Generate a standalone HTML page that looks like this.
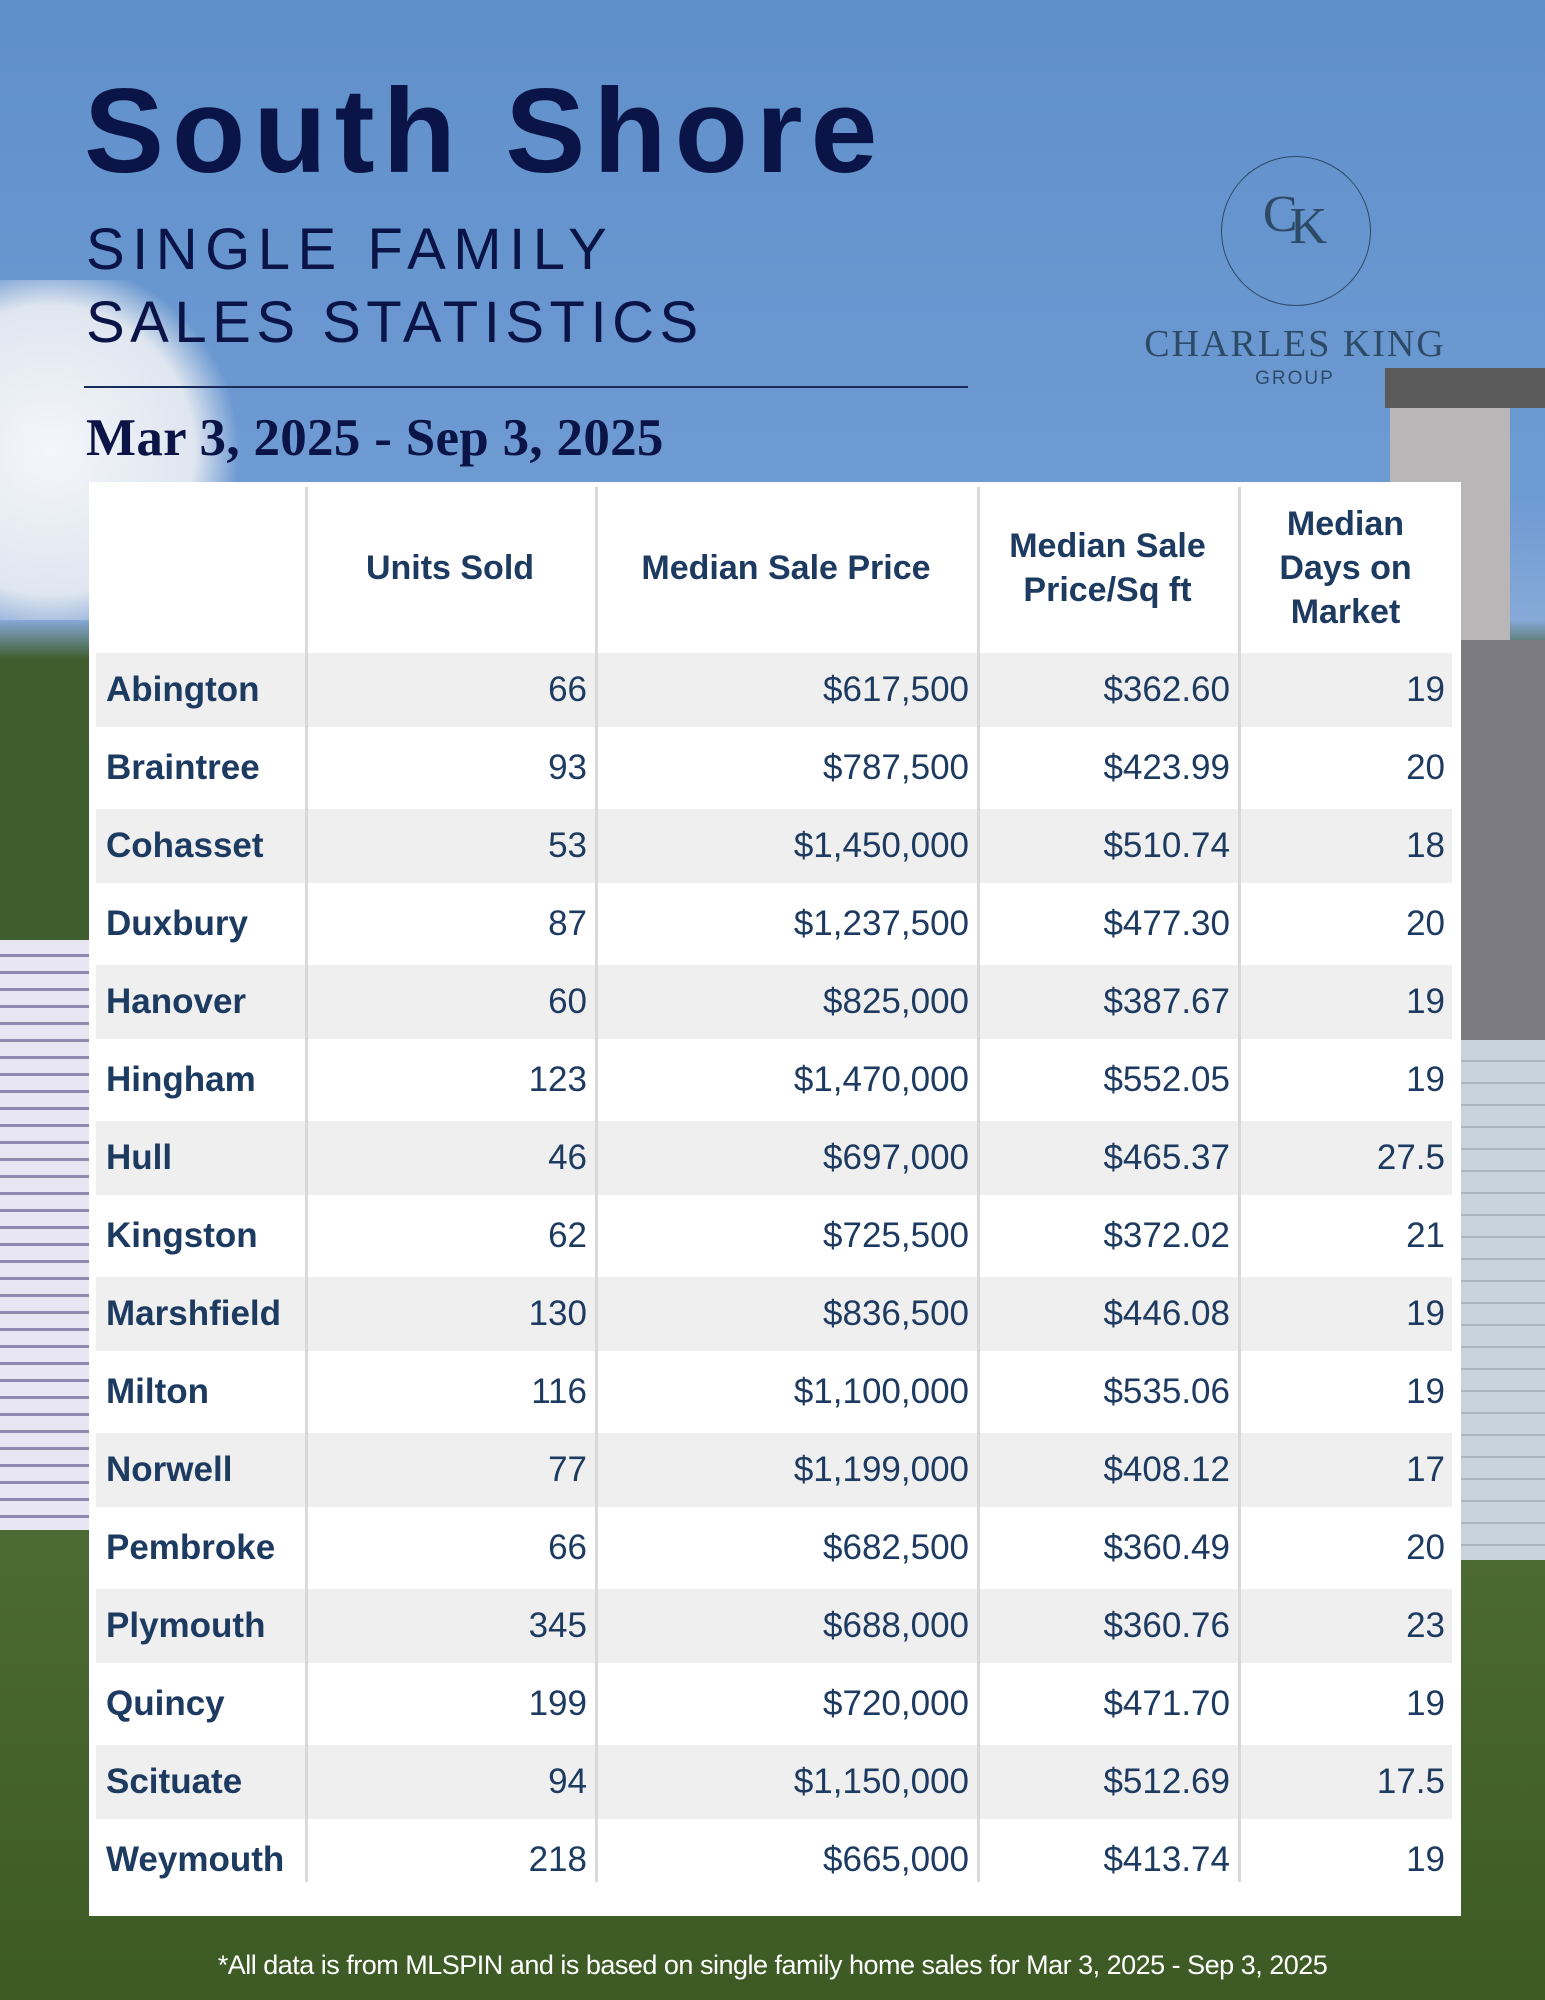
<!DOCTYPE html>
<html><head><meta charset="utf-8"><style>
*{margin:0;padding:0;box-sizing:border-box}
html,body{width:1545px;height:2000px;overflow:hidden}
body{position:relative;font-family:"Liberation Sans",sans-serif;
background:linear-gradient(180deg,#5f8fca 0%,#6f9bd3 25%,#86a9d8 31%,#3e5c2c 33%,#3f6030 60%,#4d6b35 75%,#3d5a24 100%)}
.abs{position:absolute}
.cell{position:absolute;color:#1d3a60;font-size:35px;white-space:nowrap}
</style></head><body>
<div class="abs" style="left:0;top:280px;width:250px;height:340px;border-radius:0 50% 50% 0;background:radial-gradient(circle at 20% 50%,#f4f6fa,#dfe6f0 55%,rgba(220,230,240,0) 72%)"></div>
<div class="abs" style="left:0;top:940px;width:92px;height:590px;background:repeating-linear-gradient(180deg,#e8e6f2 0 14px,#8f88b0 14px 17px)"></div>
<div class="abs" style="left:1390px;top:400px;width:120px;height:240px;background:#b8b6b6"></div>
<div class="abs" style="left:1385px;top:368px;width:160px;height:40px;background:#5a5a5a"></div>
<div class="abs" style="left:1461px;top:640px;width:84px;height:400px;background:#7a7a80"></div>
<div class="abs" style="left:1461px;top:1040px;width:84px;height:520px;background:repeating-linear-gradient(180deg,#c9d3dc 0 20px,#a9b5c0 20px 22px)"></div>

<div class="abs" style="left:84px;top:62px;font-size:120px;font-weight:bold;color:#0b1446;letter-spacing:8px">South Shore</div>
<div class="abs" style="left:86px;top:216px;font-size:58px;color:#0b1446;letter-spacing:7.5px">SINGLE FAMILY</div>
<div class="abs" style="left:86px;top:289px;font-size:58px;color:#0b1446;letter-spacing:5.5px">SALES STATISTICS</div>
<div class="abs" style="left:84px;top:386px;width:884px;height:2px;background:#1a2a5a"></div>
<div class="abs" style="left:86px;top:408px;font-family:'Liberation Serif',serif;font-size:53px;font-weight:bold;color:#0b1446;letter-spacing:0.3px">Mar 3, 2025 - Sep 3, 2025</div>

<div class="abs" style="left:1221px;top:156px;width:150px;height:150px;border:1.5px solid #2d4a66;border-radius:50%"></div>
<div class="abs" style="left:1250px;top:185px;width:90px;text-align:center;font-family:'Liberation Serif',serif;font-size:52px;color:#2d4a66">C<span style="font-size:52px;position:relative;top:12px;margin-left:-8px">K</span></div>
<div class="abs" style="left:1130px;top:322px;width:330px;text-align:center;font-family:'Liberation Serif',serif;font-size:38px;color:#2d4a66;letter-spacing:2px">CHARLES KING</div>
<div class="abs" style="left:1195px;top:368px;width:200px;text-align:center;font-size:19px;color:#2d4a66;letter-spacing:2px">GROUP</div>

<div class="abs" id="table" style="left:89px;top:482px;width:1372px;height:1434px;background:#fff"></div>

<div class="abs" style="left:0;top:1950px;width:1545px;text-align:center;font-size:27px;color:#fff;letter-spacing:-0.5px">*All data is from MLSPIN and is based on single family home sales for Mar 3, 2025 - Sep 3, 2025</div>

<script>
const towns=["Abington","Braintree","Cohasset","Duxbury","Hanover","Hingham","Hull","Kingston","Marshfield","Milton","Norwell","Pembroke","Plymouth","Quincy","Scituate","Weymouth"];
const unitsSold=[66,93,53,87,60,123,46,62,130,116,77,66,345,199,94,218];
const medianPrice=[617500,787500,1450000,1237500,825000,1470000,697000,725500,836500,1100000,1199000,682500,688000,720000,1150000,665000];
const pricePerSqft=[362.60,423.99,510.74,477.30,387.67,552.05,465.37,372.02,446.08,535.06,408.12,360.49,360.76,471.70,512.69,413.74];
const daysOnMarket=[19,20,18,20,19,19,27.5,21,19,19,17,20,23,19,17.5,19];
const headers=["Units Sold","Median Sale Price","Median Sale<br>Price/Sq ft","Median<br>Days on<br>Market"];

const t=document.getElementById('table');
const colEdges=[216,506,888,1149,1364];
const rowTop=171,rowH=78;
for(let i=0;i<4;i++){
  const d=document.createElement('div');
  
  
  d.style.cssText=`position:absolute;left:${colEdges[i]}px;top:5px;width:3px;height:1395px;background:#d9d9d9;z-index:2`;
  t.appendChild(d);
}
headers.forEach((h,i)=>{
  const e=document.createElement('div');
  
  
  e.style.cssText=`position:absolute;left:${colEdges[i]}px;width:${colEdges[i+1]-colEdges[i]}px;top:0;height:${rowTop}px;display:flex;align-items:center;justify-content:center;text-align:center;font-weight:bold;font-size:34px;line-height:44px;color:#1d3a60`;
  e.innerHTML=h;
  t.appendChild(e);
});
const fmt=n=>'$'+n.toLocaleString('en-US');
towns.forEach((name,r)=>{
  const top=rowTop+r*rowH;
  if(r%2===0){
    const s=document.createElement('div');
    
    
    s.style.cssText=`position:absolute;left:7px;width:1356px;top:${top}px;height:${rowH-4}px;background:#efefef`;
    t.appendChild(s);
  }
  const vals=[unitsSold[r],fmt(medianPrice[r]),'$'+pricePerSqft[r].toFixed(2),daysOnMarket[r]];
  const n=document.createElement('div');
  
  
  n.className='cell';
  n.style.cssText+=`left:17px;top:${top}px;height:${rowH-4}px;line-height:${rowH-4}px;font-weight:bold;z-index:3`;
  n.textContent=name;
  t.appendChild(n);
  vals.forEach((v,c)=>{
    const e=document.createElement('div');
    
    
    e.className='cell';
    e.style.cssText+=`right:${1372-colEdges[c+1]+8}px;top:${top}px;height:${rowH-4}px;line-height:${rowH-4}px;z-index:3`;
    e.textContent=v;
    t.appendChild(e);
  });
});
</script>
</body></html>
